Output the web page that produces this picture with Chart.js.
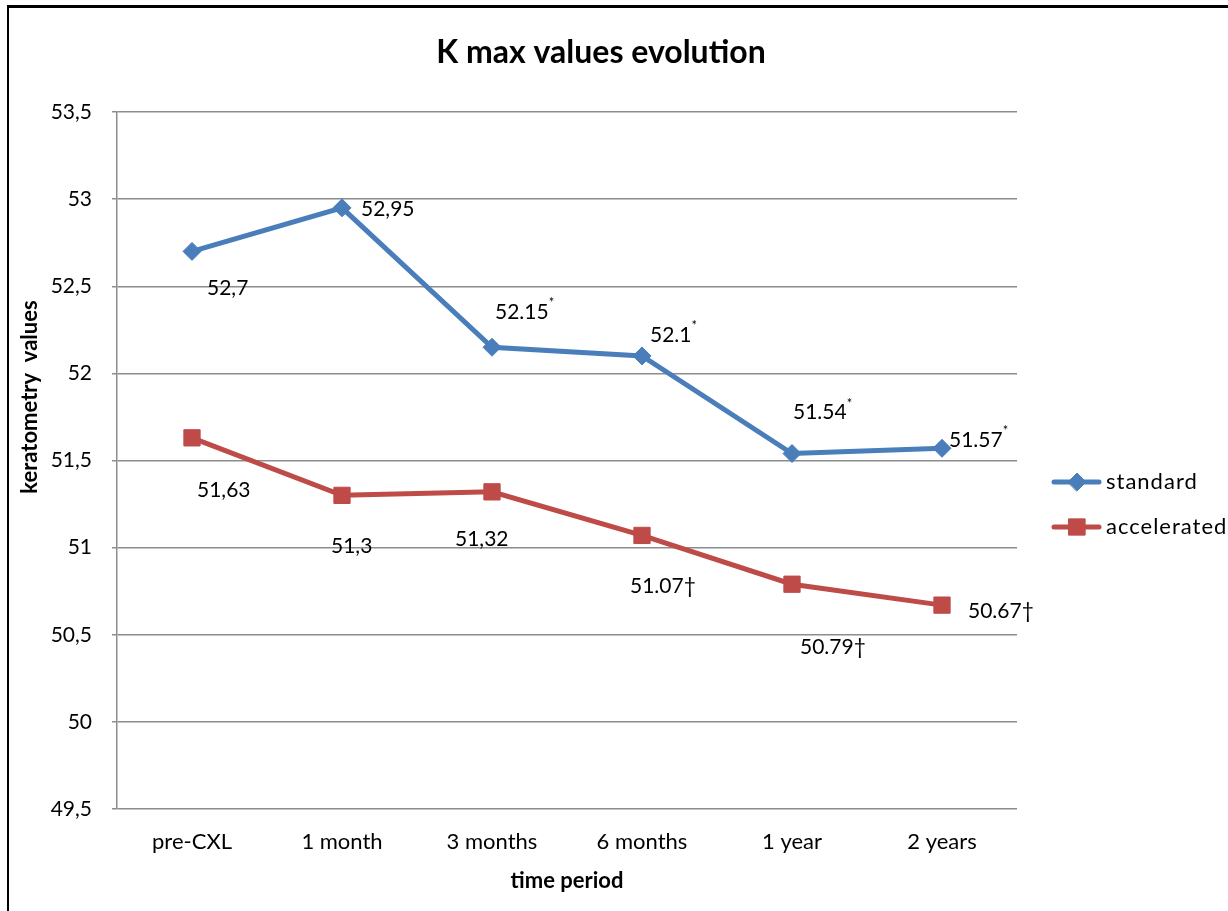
<!DOCTYPE html>
<html>
<head>
<meta charset="utf-8">
<script src="https://cdn.jsdelivr.net/npm/chart.js@4.4.0/dist/chart.umd.min.js"></script>
<style>
  html, body { margin: 0; padding: 0; background: #fff; }
</style>
</head>
<body>
<canvas id="kmaxChart" width="1228" height="911"></canvas>
<script>
// data
const periods = ['pre-CXL', '1 month', '3 months', '6 months', '1 year', '2 years'];
const standardValues = [52.7, 52.95, 52.15, 52.1, 51.54, 51.57];
const acceleratedValues = [51.63, 51.3, 51.32, 51.07, 50.79, 50.67];

// label text as printed on the chart (mixed separators kept as in the original)
const standardLabels = ['52,7', '52,95', '52.15', '52.1', '51.54', '51.57'];
const standardMarks = ['', '', '*', '*', '*', '*'];
const acceleratedLabels = ['51,63', '51,3', '51,32', '51.07†', '50.79†', '50.67†'];
const acceleratedMarks = ['', '', '', '', '', ''];

const yMin = 49.5;
const yMax = 53.5;
const yStep = 0.5;

const FONT = 'Lato, "Open Sans", sans-serif';
const BLUE = '#4a7ebb';
const RED = '#be4b48';

// where each value label sits relative to its point (left edge, vertical centre)
const labelOffsets = [
  [[15, 37], [19, 1], [3, -35], [8, -21], [1, -41], [7, -8]],
  [[5, 52], [-11, 51], [-37, 47], [-12, 51], [8, 63], [26, 6]]
];

// outer frame of the picture
const framePlugin = {
  id: 'frame',
  afterDraw(chart) {
    const ctx = chart.ctx;
    ctx.save();
    ctx.strokeStyle = '#000';
    ctx.lineWidth = 2;
    ctx.strokeRect(8, 7, 1300, 1000);
    ctx.fillStyle = '#000';
    ctx.fillRect(7, 5, 1230, 3);
    ctx.restore();
  }
};

// chart title and the two axis titles, placed as in the original
const titlesPlugin = {
  id: 'titles',
  afterDraw(chart) {
    const ctx = chart.ctx;
    ctx.save();
    ctx.fillStyle = '#000';
    ctx.textAlign = 'center';
    ctx.textBaseline = 'middle';
    ctx.font = 'bold 32px ' + FONT;
    ctx.fillText('K max values evolution', 601, 53);
    ctx.font = 'bold 22px ' + FONT;
    const area = chart.chartArea;
    ctx.fillText('time period', (area.left + area.right) / 2, 881);
    ctx.translate(30, 397);
    ctx.rotate(-Math.PI / 2);
    ctx.fillText('keratometry  values', 0, 0);
    ctx.restore();
  }
};

// value labels next to the points
const pointLabelPlugin = {
  id: 'pointLabels',
  afterDatasetsDraw(chart) {
    const ctx = chart.ctx;
    const texts = [standardLabels, acceleratedLabels];
    const marks = [standardMarks, acceleratedMarks];
    ctx.save();
    ctx.textBaseline = 'middle';
    ctx.textAlign = 'left';
    ctx.fillStyle = '#000';
    chart.data.datasets.forEach((ds, di) => {
      const meta = chart.getDatasetMeta(di);
      meta.data.forEach((pt, i) => {
        const [dx, dy] = labelOffsets[di][i];
        const x = pt.x + dx;
        const y = pt.y + dy;
        ctx.font = '21px ' + FONT;
        ctx.fillText(texts[di][i], x, y);
        if (marks[di][i]) {
          const w = ctx.measureText(texts[di][i]).width;
          ctx.font = '13px ' + FONT;
          ctx.fillText(marks[di][i], x + w, y - 9);
        }
      });
    });
    ctx.restore();
  }
};

// legend on the right: line sample with the marker in the middle
const sideLegendPlugin = {
  id: 'sideLegend',
  afterDraw(chart) {
    const ctx = chart.ctx;
    const rows = [482, 527];
    ctx.save();
    chart.data.datasets.forEach((ds, i) => {
      const y = rows[i];
      ctx.strokeStyle = ds.borderColor;
      ctx.fillStyle = ds.borderColor;
      ctx.lineWidth = 5;
      ctx.lineCap = 'round';
      ctx.beginPath();
      ctx.moveTo(1054, y);
      ctx.lineTo(1099, y);
      ctx.stroke();
      ctx.lineWidth = 1;
      Chart.helpers.drawPoint(ctx, {
        pointStyle: ds.pointStyle,
        radius: ds.pointRadius,
        borderWidth: 1
      }, 1077, y);
      ctx.fillStyle = '#000';
      ctx.font = '22px ' + FONT;
      ctx.letterSpacing = '1px';
      ctx.textBaseline = 'middle';
      ctx.textAlign = 'left';
      ctx.fillText(ds.label, 1106, y);
      ctx.letterSpacing = '0px';
    });
    ctx.restore();
  }
};

new Chart(document.getElementById('kmaxChart'), {
  type: 'line',
  data: {
    labels: periods,
    datasets: [
      {
        label: 'standard',
        data: standardValues,
        borderColor: BLUE,
        backgroundColor: BLUE,
        borderWidth: 5,
        pointStyle: 'rectRot',
        pointRadius: 9,
        pointBorderWidth: 1,
        tension: 0
      },
      {
        label: 'accelerated',
        data: acceleratedValues,
        borderColor: RED,
        backgroundColor: RED,
        borderWidth: 5,
        pointStyle: 'rect',
        pointRadius: 11.5,
        pointBorderWidth: 1,
        tension: 0
      }
    ]
  },
  options: {
    responsive: false,
    animation: false,
    devicePixelRatio: 1,
    layout: { padding: { left: 0, right: 211, top: 112, bottom: 0 } },
    plugins: {
      legend: { display: false },
      tooltip: { enabled: false },
      title: { display: false }
    },
    scales: {
      x: {
        type: 'category',
        offset: true,
        grid: { display: false, drawTicks: false },
        border: { display: false },
        ticks: { color: '#000', font: { family: FONT, size: 22 }, padding: 20, maxRotation: 0 },
        afterFit(scale) { scale.height = 102; }
      },
      y: {
        min: yMin,
        max: yMax,
        grid: { color: '#8c8c8c', lineWidth: 1.5, drawTicks: true, tickLength: 5 },
        border: { display: true, color: '#8c8c8c', width: 1.5 },
        ticks: {
          stepSize: yStep,
          color: '#000',
          font: { family: FONT, size: 21 },
          padding: 20,
          callback: (v) => String(v).replace('.', ',')
        },
        afterFit(scale) { scale.width = 117; }
      }
    }
  },
  plugins: [framePlugin, titlesPlugin, pointLabelPlugin, sideLegendPlugin]
});
</script>
</body>
</html>
